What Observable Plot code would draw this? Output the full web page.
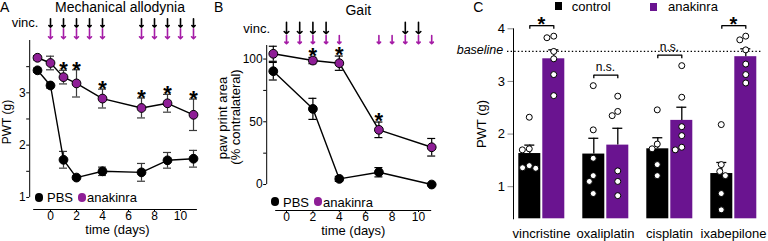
<!DOCTYPE html>
<html><head><meta charset="utf-8">
<script src="https://cdn.jsdelivr.net/npm/d3@7"></script>
<script src="https://cdn.jsdelivr.net/npm/@observablehq/plot@0.6"></script>
<style>
body{margin:0;background:#fff;}
#wrap{position:relative;width:768px;height:241px;overflow:hidden;font-family:"Liberation Sans",Arial,sans-serif;color:#000;background:#fff;}
#wrap svg{position:absolute;left:0;top:0;}
.t{position:absolute;white-space:nowrap;line-height:1;}
.pc g[aria-label^="y-axis"] line,.pc g[aria-label^="y-axis"] path{stroke:#8a8a8a;}
.pt g[aria-label^="x-axis"] text,.pt g[aria-label^="y-axis"] text{font-size:12px;}
</style></head><body><div id="wrap"></div>
<script>
// ---------------- data ----------------
// Panel A: mechanical allodynia (PWT, g)
const daysA = [-1, 0, 1, 2, 4, 7, 9, 11];
const pbsA = [3.43, 3.14, 1.72, 1.38, 1.50, 1.48, 1.71, 1.74];
const pbsSemA = [0.04, 0.05, 0.16, 0.03, 0.08, 0.17, 0.15, 0.16];
const anakA = [3.67, 3.57, 3.30, 3.18, 2.89, 2.71, 2.80, 2.58];
const anakSemA = [0.04, 0.13, 0.13, 0.26, 0.18, 0.19, 0.17, 0.30];
const starDaysA = [1, 2, 4, 7, 9, 11];
const vincDaysA = [0, 1, 2, 3, 4, 7, 8, 9, 10, 11];
const anakDoseDaysA = [0, 1, 2, 3, 4, 7, 8, 9, 10, 11];
const xTicksA = [0, 2, 4, 6, 8, 10];
const yTicksA = [1, 1.5, 2, 2.5, 3, 3.5];

// Panel B: gait (paw print area, % contralateral)
const daysB = [-1, 2, 4, 7, 11];
const pbsB = [90.3, 60.3, 4.5, 9.8, 0];
const pbsSemB = [7, 8.4, 2, 3.7, 0.5];
const anakB = [104.2, 98.8, 96.7, 43.6, 29.7];
const anakSemB = [6, 2.5, 5.7, 6.2, 7];
const starDaysB = [2, 4, 7];
const vincDaysB = [0, 1, 2, 3, 9, 10];
const anakDoseDaysB = [0, 1, 2, 3, 4, 7, 8, 9, 10, 11];
const xTicksB = [0, 2, 4, 6, 8, 10];
const yTicksB = [0, 25, 50, 75, 100];

// Panel C: PWT by chemotherapy
const drugs = ["vincristine", "oxaliplatin", "cisplatin", "ixabepilone"];
const treatments = ["control", "anakinra"];
const ctrlMean = [1.63, 1.62, 1.72, 1.25];
const ctrlSem = [0.16, 0.30, 0.21, 0.21];
const anakMean = [3.43, 1.79, 2.26, 3.47];
const anakSem = [0.17, 0.32, 0.25, 0.15];
const ctrlPoints = [
  [2.32, 1.72, 1.70, 1.40, 1.36, 1.35],
  [2.92, 2.08, 1.54, 1.21, 1.10, 0.87],
  [2.46, 1.81, 1.72, 1.42, 1.21],
  [2.18, 1.42, 1.29, 1.21, 0.87, 0.56]
];
const anakPoints = [
  [3.86, 3.83, 3.57, 3.43, 3.13, 2.73],
  [2.72, 2.43, 2.35, 1.30, 1.10, 0.83],
  [3.30, 2.70, 2.14, 1.97, 1.75, 1.70],
  [3.86, 3.79, 3.60, 3.33, 3.13, 2.97]
];
const sigLabels = ["*", "n.s.", "n.s.", "*"];
const baselinePWT = 3.57;
const yTicksC = [1, 2, 3, 4];

// ---------------- styling ----------------
const W = 768, H = 241;
const PURPLE = "#8e1e96", ARROW_PURPLE = "#a51ca6", BAR_PURPLE = "#6a1490";
const FONT = "'Liberation Sans', Arial, sans-serif";
const base = {width: W, height: H, style: {background: "transparent", fontFamily: FONT, fontSize: "13px", overflow: "visible"}};
const wrap = document.getElementById("wrap");

function rows(days, mean, sem, group) {
  return days.map((d, i) => ({day: d, mean: mean[i], sem: sem[i], group}));
}

function timeMarks(rowsX, stars, xDom, yDom, yAxisSpan, errColor, starDy, vinc, anak, cfg) {
  return [
    Plot.ruleX([xDom[0]], {y1: yAxisSpan[0], y2: yAxisSpan[1], strokeWidth: 1}),
    Plot.ruleY([yDom[0]], {insetLeft: cfg.xAxisInset, strokeWidth: 1}),
    Plot.ruleX(rowsX, {x: "day", y1: d => d.mean - d.sem, y2: d => d.mean + d.sem, stroke: errColor, strokeWidth: 1.2}),
    Plot.ruleY(rowsX, {x1: "day", x2: "day", y: d => d.mean + d.sem, insetLeft: -4, insetRight: -4, stroke: errColor, strokeWidth: 1.2}),
    Plot.ruleY(rowsX, {x1: "day", x2: "day", y: d => d.mean - d.sem, insetLeft: -4, insetRight: -4, stroke: errColor, strokeWidth: 1.2}),
    Plot.line(rowsX, {x: "day", y: "mean", z: "group", stroke: "black", strokeWidth: 1.4}),
    Plot.dot(rowsX, {x: "day", y: "mean", r: 4.4, fill: "group", stroke: "black", strokeWidth: 1}),
    Plot.text(stars, {x: "day", y: "top", text: () => "*", fontSize: 22, fontWeight: "bold", dy: starDy}),
    Plot.vector(vinc, {x: d => d, frameAnchor: "top", length: cfg.blackLen, rotate: 180, anchor: "start", dy: cfg.blackDy, stroke: "black", strokeWidth: 1.6}),
    Plot.vector(anak, {x: d => d, frameAnchor: "top", length: cfg.purpleLen, rotate: 180, anchor: "start", dy: cfg.purpleDy, stroke: ARROW_PURPLE, strokeWidth: 1.6})
  ];
}

// ---------------- Panel A ----------------
const rowsA = [...rows(daysA, pbsA, pbsSemA, "PBS"), ...rows(daysA, anakA, anakSemA, "anakinra")];
const starsA = starDaysA.map(d => { const i = daysA.indexOf(d); return {day: d, top: anakA[i] + anakSemA[i]}; });
const xDomA = [-1.6, 11.3], yDomA = [0.77, 4];
const plotA = Plot.plot({
  ...base,
  marginLeft: 29.2, marginRight: W - 196.9, marginTop: 40, marginBottom: H - 209,
  x: {domain: xDomA, ticks: xTicksA, tickSize: 2, tickPadding: 0, label: null},
  y: {domain: yDomA, ticks: yTicksA, tickFormat: d => Number.isInteger(d) ? d : "", tickSize: 3, tickPadding: 1, label: null},
  color: {domain: ["PBS", "anakinra"], range: ["black", PURPLE]},
  marks: timeMarks(rowsA, starsA, xDomA, yDomA, [1, 4], "#3a3a3a", 0, vincDaysA, anakDoseDaysA,
    {xAxisInset: 4, blackLen: 8.4, blackDy: -21.7, purpleLen: 10, purpleDy: -11.7})
});
plotA.classList.add("pt");
wrap.appendChild(plotA);

// ---------------- Panel B ----------------
const rowsB = [...rows(daysB, pbsB, pbsSemB, "PBS"), ...rows(daysB, anakB, anakSemB, "anakinra")];
const starsB = starDaysB.map(d => { const i = daysB.indexOf(d); return {day: d, top: anakB[i] + anakSemB[i]}; });
const xDomB = [-1.5, 11], yDomB = [-20.7, 110.8];
const plotB = Plot.plot({
  ...base,
  marginLeft: 266.2, marginRight: W - 431.2, marginTop: 45, marginBottom: H - 210,
  x: {domain: xDomB, ticks: xTicksB, tickSize: 2, tickPadding: 0, label: null},
  y: {domain: yDomB, ticks: yTicksB, tickFormat: d => d % 50 === 0 ? d : "", tickSize: 3, tickPadding: 1, label: null},
  color: {domain: ["PBS", "anakinra"], range: ["black", PURPLE]},
  marks: timeMarks(rowsB, starsB, xDomB, yDomB, [0, yDomB[1]], "black", -1.3, vincDaysB, anakDoseDaysB,
    {xAxisInset: 9, blackLen: 11.6, blackDy: -23.3, purpleLen: 8.3, purpleDy: -10})
});
plotB.classList.add("pt");
wrap.appendChild(plotB);

// ---------------- Panel C ----------------
const rowsC = drugs.flatMap((drug, i) => [
  {drug, treat: "control", mean: ctrlMean[i], sem: ctrlSem[i]},
  {drug, treat: "anakinra", mean: anakMean[i], sem: anakSem[i]}
]);
const ptsCtrl = drugs.flatMap((drug, i) => ctrlPoints[i].map(v => ({drug, treat: "control", v})));
const ptsAnak = drugs.flatMap((drug, i) => anakPoints[i].map(v => ({drug, treat: "anakinra", v})));
const sigC = drugs.map((drug, i) => ({drug, label: sigLabels[i], top: Math.max(...ctrlPoints[i], ...anakPoints[i])}));
const sigEnds = sigC.flatMap(s => treatments.map(t => ({...s, treat: t})));
const yDomC = [0.39, 4];
const cMargins = {marginLeft: 512.7, marginRight: 7.6, marginTop: 28.3, marginBottom: H - 218.3};
// bar geometry inside each group (px): band width 22, step 24.5
const BAND = 22, HALF_STEP = 12.25, BRACKET_DY = -10.5;

const plotC0 = Plot.plot({
  ...base, ...cMargins,
  y: {domain: yDomC, axis: null},
  marks: [Plot.ruleY([baselinePWT], {insetLeft: -5.7, insetRight: -1.6, strokeWidth: 1.3, strokeDasharray: "1.4,2.2"})]
});
wrap.appendChild(plotC0);

const plotC = Plot.plot({
  ...base, ...cMargins,
  fx: {domain: drugs, paddingInner: 0.13, paddingOuter: 0, label: null, tickSize: 0, tickPadding: 9.5},
  x: {domain: treatments, paddingInner: 0.102, paddingOuter: 0.1875, axis: null},
  y: {domain: yDomC, clamp: true, ticks: yTicksC, tickFormat: d => String(d), tickSize: 5.5, tickPadding: 3, label: null, line: true},
  color: {domain: treatments, range: ["black", BAR_PURPLE]},
  marks: [
    Plot.barY(rowsC, {fx: "drug", x: "treat", y: "mean", fill: "treat"}),
    Plot.ruleX(rowsC, {fx: "drug", x: "treat", y1: "mean", y2: d => d.mean + d.sem, stroke: "black", strokeWidth: 1.3}),
    Plot.tickY(rowsC, {fx: "drug", x: "treat", y: d => d.mean + d.sem, insetLeft: 6, insetRight: 6, stroke: "black", strokeWidth: 1.3}),
    Plot.dot(ptsCtrl, Plot.dodgeX("middle", {fx: "drug", y: "v", r: 3, fill: "white", stroke: "black", strokeWidth: 1, dx: -HALF_STEP - BAND / 2})),
    Plot.dot(ptsAnak, Plot.dodgeX("middle", {fx: "drug", y: "v", r: 3, fill: "white", stroke: "black", strokeWidth: 1, dx: HALF_STEP - BAND / 2})),
    Plot.link(sigC, {fx: "drug", x1: () => "control", x2: () => "anakinra", y1: "top", y2: "top", dy: BRACKET_DY, stroke: "black", strokeWidth: 1.3}),
    Plot.ruleX(sigEnds, {fx: "drug", x: "treat", y1: "top", y2: "top", insetBottom: -3.5, dy: BRACKET_DY, stroke: "black", strokeWidth: 1.3}),
    Plot.text(sigC.filter(s => s.label === "*"), {fx: "drug", y: "top", text: "label", fontSize: 20, fontWeight: "bold", dy: BRACKET_DY - 1}),
    Plot.text(sigC.filter(s => s.label !== "*"), {fx: "drug", y: "top", text: "label", fontSize: 12, dy: BRACKET_DY - 7.7})
  ]
});
plotC.classList.add("pc");
wrap.appendChild(plotC);

// ---------------- HTML text ----------------
function label(text, {x, base: bl, size = 13, anchor = "start", style = "", lh = 1}) {
  const el = document.createElement("div");
  el.className = "t";
  el.textContent = text;
  el.style.cssText += `left:${x}px;top:${bl - (lh / 2 + 0.3465) * size}px;font-size:${size}px;line-height:${lh};${style}`;
  if (anchor === "middle") el.style.transform = "translateX(-50%)";
  wrap.appendChild(el);
}
function vlabel(text, cx, cy, size = 13) {
  const el = document.createElement("div");
  el.className = "t";
  el.textContent = text;
  el.style.cssText += `left:${cx}px;top:${cy}px;font-size:${size}px;transform:translate(-50%,-50%) rotate(-90deg);`;
  wrap.appendChild(el);
}
function swatch(x, y, w, h, color, round) {
  const el = document.createElement("div");
  el.style.cssText = `position:absolute;left:${x}px;top:${y}px;width:${w}px;height:${h}px;background:${color};${round ? "border-radius:50%;" : ""}`;
  wrap.appendChild(el);
}

// Panel A texts
label("A", {x: 0, base: 11.7, size: 14});
label("Mechanical allodynia", {x: 120, base: 11.7, size: 14, anchor: "middle"});
label("vinc.", {x: 11.7, base: 27.3});
vlabel("PWT (g)", 7, 121.7, 12);
label("time (days)", {x: 117.5, base: 233.7, anchor: "middle", lh: 0.7});
swatch(34.6, 192.9, 8.8, 8.8, "black", true);
label("PBS", {x: 47, base: 201.7});
swatch(77.6, 192.9, 8.8, 8.8, PURPLE, true);
label("anakinra", {x: 87, base: 201.7});

// Panel B texts
label("B", {x: 214, base: 11.7, size: 14});
label("Gait", {x: 358.3, base: 15, size: 14, anchor: "middle"});
label("vinc.", {x: 243.3, base: 32.7});
vlabel("paw print area", 221.5, 117.5);
vlabel("(% contralateral)", 235, 116.7);
label("time (days)", {x: 353.3, base: 235.5, anchor: "middle", lh: 0.7});
swatch(270.6, 197.3, 8.8, 8.8, "black", true);
label("PBS", {x: 283, base: 206.7});
swatch(313.6, 197.3, 8.8, 8.8, PURPLE, true);
label("anakinra", {x: 323, base: 206.7});

// Panel C texts
label("C", {x: 473.3, base: 11.7, size: 14});
swatch(555, 2, 7, 7.5, "black", false);
label("control", {x: 571.7, base: 10.5});
swatch(650, 3, 7, 7.5, BAR_PURPLE, false);
label("anakinra", {x: 668, base: 10.5});
vlabel("PWT (g)", 481, 124);
label("baseline", {x: 456.7, base: 55, size: 12.5, style: "font-style:italic;"});
</script></body></html>
